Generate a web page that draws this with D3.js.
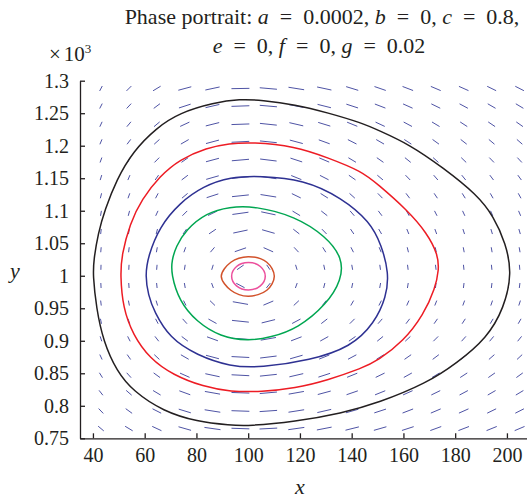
<!DOCTYPE html>
<html lang="en">
  <head>
    <meta charset="utf-8" />
    <title>Phase portrait</title>
    <script src="https://d3js.org/d3.v7.min.js"></script>
    <style>
      body { margin: 0; background: #fff; }
      svg text { font-family: "Liberation Serif", "DejaVu Serif", serif; fill: #231f20; }
    </style>
  </head>
  <body>
    <div id="my_dataviz"></div>
  <script>
      // ticks
      const xTicks = [40, 60, 80, 100, 120, 140, 160, 180, 200]
      const yTicks = [750, 800, 850, 900, 950, 1000, 1050, 1100, 1150, 1200, 1250, 1300]

      // direction field grid (x columns, y rows from top to bottom)
      const fieldX = [43.1, 53.9, 64.7, 75.5, 86.2, 97.0, 107.8, 118.6, 129.4, 140.2, 151.0, 161.7, 172.5, 183.3, 194.1, 204.9]
      const fieldY = [1288, 1261, 1233, 1206, 1178, 1151, 1123, 1096, 1068, 1040, 1013, 985, 958, 930, 903, 875, 847, 820, 792, 765]
      // dash angle on screen in degrees, + = rising to the right
      const fieldAngle = [
        [62, 45, 31, 15, 12, 1, -5, -9, -12, -17, -19, -21, -23, -24, -26, -27],
        [63, 47, 37, 18, 13, 2, -5, -11, -14, -18, -21, -24, -26, -28, -30, -31],
        [65, 50, 40, 25, 14, 2, -6, -13, -17, -22, -25, -28, -31, -33, -34, -35],
        [67, 53, 42, 30, 15, 3, -6, -15, -20, -27, -30, -33, -36, -38, -40, -41],
        [70, 60, 45, 35, 15, 5, -7, -18, -23, -31, -35, -39, -42, -44, -46, -47],
        [73, 67, 55, 37, 16, 6, -8, -22, -27, -35, -40, -46, -49, -51, -53, -54],
        [76, 70, 62, 40, 18, 6, -9, -26, -32, -42, -46, -53, -56, -58, -60, -61],
        [80, 75, 65, 45, 26, 8, -12, -31, -38, -49, -53, -61, -63, -65, -66, -67],
        [83, 80, 75, 55, 34, 12, -16, -38, -46, -56, -60, -68, -70, -72, -73, -74],
        [85, 83, 80, 70, 50, 19, -24, -47, -58, -63, -68, -76, -78, -79, -80, -80],
        [88, 87, 85, 81, 73, 35, -56, -73, -78, -80, -82, -83, -83, -84, -84, -85],
        [-87, -86, -84, -80, -70, -28, 51, 70, 76, 78, 80, 81, 82, 83, 83, 83],
        [-83, -79, -73, -63, -44, -10, 23, 43, 53, 60, 63, 66, 68, 70, 71, 72],
        [-78, -71, -62, -48, -29, -6, 14, 28, 38, 45, 49, 53, 55, 57, 59, 60],
        [-72, -63, -52, -37, -20, -4, 10, 21, 29, 35, 39, 43, 45, 48, 50, 51],
        [-65, -55, -43, -30, -15, -3, 7, 16, 22, 28, 32, 35, 37, 40, 41, 43],
        [-58, -48, -36, -24, -12, -3, 6, 13, 18, 22, 26, 29, 31, 33, 35, 36],
        [-52, -41, -31, -20, -10, -2, 5, 10, 15, 19, 22, 24, 26, 28, 30, 31],
        [-46, -36, -27, -17, -9, -2, 4, 9, 13, 16, 18, 21, 23, 24, 26, 27],
        [-40, -31, -25, -16, -8, -2, 3, 8, 11, 14, 16, 18, 20, 21, 22, 23]
      ]

      // orbits [x, y]
      const orbitBlack = [[40.0, 1001.2], [41.3, 950.5], [44.0, 899.2], [49.2, 853.1], [55.6, 822.3], [67.2, 791.5], [80.2, 775.6], [93.1, 770.2], [100.0, 768.9], [118.1, 775.6], [136.1, 788.4], [150.4, 804.6], [168.9, 834.6], [180.6, 865.5], [192.3, 904.3], [198.9, 950.5], [202.0, 1004.3], [199.5, 1050], [194.9, 1091.2], [188.4, 1124.8], [175.4, 1166.0], [162.4, 1201.8], [150.3, 1223.8], [143.8, 1235.2], [130.9, 1250.6], [118.1, 1263.4], [105.2, 1270.0], [96.9, 1271.8], [86.6, 1266.0], [73.5, 1250.6], [64.5, 1227.4], [55.5, 1191.3], [49.1, 1147.6], [44.6, 1101.2], [42.0, 1065.4], [40.3, 1024.2]]
      const orbitRed = [[50.6, 1001.2], [51.6, 950.5], [55.5, 909.0], [61.9, 872.9], [71.0, 847.2], [82.7, 829.4], [93.1, 821.6], [105.2, 821.6], [118.1, 826.8], [130.9, 839.7], [144.0, 857.8], [150.1, 869.4], [160.0, 899.2], [167.8, 940.2], [172.3, 981.2], [173.7, 1008.9], [173.4, 1032], [169.1, 1065.8], [161.3, 1101.7], [150.0, 1141.0], [143.8, 1160.8], [130.9, 1181.4], [118.1, 1199.2], [101.3, 1205.5], [92.7, 1203.4], [84.0, 1196.8], [73.5, 1178.8], [65.8, 1153.0], [58.9, 1117.8], [54.3, 1080.5], [51.1, 1031.7]]
      const orbitBlue = [[60.2, 1000.0], [61.4, 970.0], [63.6, 945.4], [69.7, 903.8], [80.1, 878.0], [93.1, 860.2], [104.7, 858.6], [124.1, 870.0], [139.7, 890.5], [148.8, 926.9], [153.4, 967.8], [154.4, 1003.8], [151.5, 1047.6], [147.1, 1083.2], [136.0, 1120.3], [121.4, 1148.0], [104.7, 1153.4], [93.1, 1152.1], [82.6, 1137.7], [73.5, 1112.0], [65.8, 1075.7], [61.3, 1030.0]]
      const orbitGreen = [[70.2, 1003.0], [73.4, 960.6], [80.0, 929.4], [89.2, 906.2], [100.0, 899.6], [108.6, 905.0], [119.3, 919.2], [130.4, 956.4], [136.1, 993.6], [136.5, 1027.4], [130.0, 1060.8], [118.1, 1091.6], [102.6, 1107.2], [92.7, 1106.0], [83.9, 1096.8], [75.9, 1070.7], [72.1, 1044.8], [70.5, 1024.3]]
      const orbitBrown = [[89.6, 999.2], [93.3, 977.7], [100.0, 968.5], [107.2, 977.7], [110.1, 999.2], [107.2, 1020.8], [100.0, 1029.4], [93.3, 1020.8]]
      const orbitPink = [[93.6, 999.4], [95.5, 984.5], [100.1, 978.2], [104.7, 984.5], [106.6, 999.4], [104.7, 1014.3], [100.1, 1020.5], [95.5, 1014.3]]

      const orbits = [
        {pts: orbitBlack, color: "#231f20", smooth: true},
        {pts: orbitRed, color: "#ed1c24", smooth: true},
        {pts: orbitBlue, color: "#2e3192", smooth: true},
        {pts: orbitGreen, color: "#00a651", smooth: true},
        {pts: orbitBrown, color: "#d2522b", smooth: false},
        {pts: orbitPink, color: "#ec4f9c", smooth: false}
      ]

      const W = 527, H = 504

      const svg = d3.select("#my_dataviz")
        .append("svg")
          .attr("width", W)
          .attr("height", H)

      // scales
      const x = d3.scaleLinear()
        .domain([35, 210])
        .range([80, 532.8])
      const y = d3.scaleLinear()
        .domain([750, 1300])
        .range([438.3, 80.7])

      // direction field
      const dashes = []
      fieldY.forEach(function(yv, i) {
        fieldX.forEach(function(xv, j) {
          dashes.push({x: xv, y: yv, a: fieldAngle[i][j]})
        })
      })
      const ax = 18, by = 5
      function half(d) {
        const t = d.a * Math.PI / 180
        const L = 1 / Math.hypot(Math.cos(t) / ax, Math.sin(t) / by)
        return [L / 2 * Math.cos(t), L / 2 * Math.sin(t)]
      }
      svg.append("g")
        .selectAll("line")
        .data(dashes)
        .join("line")
          .attr("x1", function(d) { return x(d.x) - half(d)[0] })
          .attr("x2", function(d) { return x(d.x) + half(d)[0] })
          .attr("y1", function(d) { return y(d.y) + half(d)[1] })
          .attr("y2", function(d) { return y(d.y) - half(d)[1] })
          .style("stroke", "#3a3f9a")
          .style("stroke-width", 0.9)

      // orbits
      const smoothLine = d3.line()
        .x(function(d) { return x(d[0]) })
        .y(function(d) { return y(d[1]) })
        .curve(d3.curveBasisClosed)
      const ringLine = d3.line()
        .x(function(d) { return x(d[0]) })
        .y(function(d) { return y(d[1]) })
        .curve(d3.curveCatmullRomClosed.alpha(0.5))
      svg.append("g")
        .selectAll("path")
        .data(orbits)
        .join("path")
          .attr("d", function(d) { return d.smooth ? smoothLine(d.pts) : ringLine(d.pts) })
          .style("fill", "none")
          .style("stroke", function(d) { return d.color })
          .style("stroke-width", 1.5)

      // axes
      svg.append("g")
        .attr("transform", `translate(0, ${y(750)})`)
        .call(d3.axisBottom(x).tickValues(xTicks).tickSizeInner(-5).tickSizeOuter(0).tickPadding(10))
      svg.append("g")
        .attr("transform", `translate(${x(35)}, 0)`)
        .call(d3.axisLeft(y).tickValues(yTicks).tickSizeInner(-5).tickSizeOuter(0).tickPadding(11)
          .tickFormat(function(d) { return String(d / 1000) }))
      svg.selectAll(".tick text").style("font-size", "20px").style("font-family", "Liberation Serif, serif").style("fill", "#231f20")
      svg.selectAll(".domain, .tick line").style("stroke", "#231f20").style("stroke-width", 1.3)

      // exponent
      const expo = svg.append("text").attr("x", 49).attr("y", 61).style("font-size", "21px")
      expo.append("tspan").text("×")
      expo.append("tspan").attr("dx", 3).text("10")
      expo.append("tspan").attr("dy", -8).style("font-size", "13px").text("3")

      // axis labels
      svg.append("text")
        .attr("x", 300).attr("y", 494)
        .attr("text-anchor", "middle")
        .style("font-size", "22px").style("font-style", "italic")
        .text("x")
      svg.append("text")
        .attr("x", 15).attr("y", 278)
        .attr("text-anchor", "middle")
        .style("font-size", "22px").style("font-style", "italic")
        .text("y")

      // title
      const sp = "\u2002"
      const t1 = svg.append("text").attr("x", 322).attr("y", 24).attr("text-anchor", "middle").style("font-size", "22px")
      const parts1 = [["Phase portrait: ", 0], ["a", 1], [sp + "=" + sp + "0.0002, ", 0], ["b", 1], [sp + "=" + sp + "0, ", 0], ["c", 1], [sp + "=" + sp + "0.8,", 0]]
      parts1.forEach(function(p) { t1.append("tspan").style("font-style", p[1] ? "italic" : "normal").text(p[0]) })
      const t2 = svg.append("text").attr("x", 319).attr("y", 53).attr("text-anchor", "middle").style("font-size", "22px")
      const parts2 = [["e", 1], [sp + "=" + sp + "0, ", 0], ["f", 1], [sp + "=" + sp + "0, ", 0], ["g", 1], [sp + "=" + sp + "0.02", 0]]
      parts2.forEach(function(p) { t2.append("tspan").style("font-style", p[1] ? "italic" : "normal").text(p[0]) })
  </script>
  </body>
</html>
